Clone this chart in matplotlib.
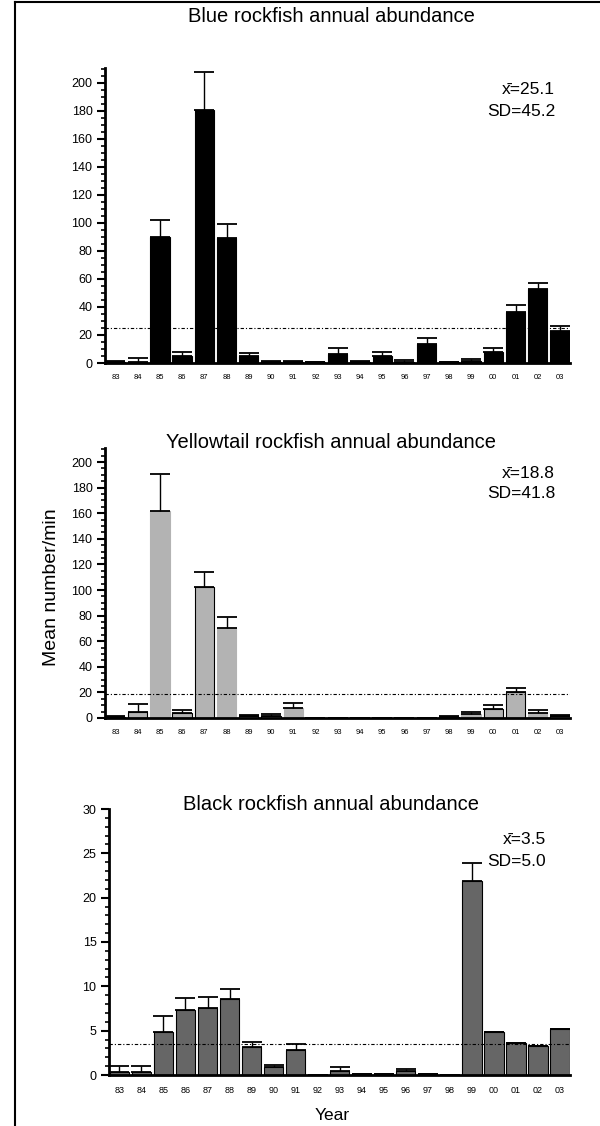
import numpy as np
import matplotlib.pyplot as plt
from matplotlib.lines import Line2D

plt.rcParams['font.family'] = ['Liberation Sans', 'DejaVu Sans']

years = ["83", "84", "85", "86", "87", "88", "89", "90", "91", "92", "93",
         "94", "95", "96", "97", "98", "99", "00", "01", "02", "03"]

# Blue rockfish: mean and upper error (mean number/min)
blue_mean = [1.0, 1.0, 90.0, 5.0, 180.5, 89.5, 5.0, 1.0, 0.8, 0.5, 6.5,
             1.0, 5.0, 1.0, 13.5, 0.5, 1.5, 8.0, 36.4, 52.9, 23.0]
blue_err = [0.6, 2.5, 12.0, 3.0, 27.0, 9.5, 2.0, 0.6, 0.3, 0.3, 4.0,
            0.4, 2.5, 1.0, 4.0, 0.3, 1.0, 2.5, 5.0, 4.5, 3.5]

# Yellowtail rockfish
yt_mean = [1.0, 4.7, 161.6, 3.9, 102.6, 70.1, 1.5, 1.5, 8.0, 0, 0,
           0, 0, 0, 0, 1.0, 3.4, 7.0, 20.0, 3.9, 1.5]
yt_err = [0.5, 6.2, 28.8, 2.1, 11.7, 8.6, 1.0, 1.5, 3.4, 0, 0,
          0, 0, 0, 0, 0.3, 1.5, 2.9, 3.6, 2.1, 0.5]

# Black rockfish
blk_mean = [0.3, 0.3, 4.8, 7.3, 7.6, 8.54, 3.12, 0.87, 2.79, 0, 0.45,
            0.15, 0.1, 0.45, 0.1, 0.03, 21.87, 4.9, 3.58, 3.24, 5.16]
blk_err = [0.75, 0.75, 1.9, 1.4, 1.25, 1.2, 0.64, 0.3, 0.75, 0, 0.45,
           0, 0, 0.23, 0, 0, 2.0, 0, 0, 0, 0]

titles = ["Blue rockfish annual abundance",
          "Yellowtail rockfish annual abundance",
          "Black rockfish annual abundance"]
means = [25.1, 18.8, 3.5]
sds = [45.2, 41.8, 5.0]

W, H = 600.0, 1126.0
fig = plt.figure(figsize=(6, 11.26), dpi=100)

# frame lines (left and top) round the figure
fig.add_artist(Line2D([14.5 / W, 14.5 / W], [0, 1 - 1.5 / H], color='black', lw=1.5))
fig.add_artist(Line2D([14.5 / W, 1], [1 - 1.5 / H, 1 - 1.5 / H], color='black', lw=1.5))

# panel boxes in pixels: left, right, bottom, top
boxes = [(105, 570, 363, 68), (105, 570, 718, 448), (109, 570, 1075, 809)]
ylims = [210.5, 211, 30]
majors = [20, 20, 5]
minors = [5, 5, 1]
colors = ['black', '#b3b3b3', '#666666']
# which yellowtail bars have a dark outline
yt_edged = [1, 1, 0, 1, 1, 0, 1, 1, 0, 0, 0, 0, 0, 0, 0, 1, 0, 1, 1, 0, 1]
title_y = [16, 443, 805]
ann_y = [(89, 111), (473, 494), (840, 862)]
ann_x = [555, 555, 546]
xt_size = [5.5, 5.5, 6.5]

data = [(blue_mean, blue_err), (yt_mean, yt_err), (blk_mean, blk_err)]
x = np.arange(len(years))

for i, (m, e) in enumerate(data):
    l, r, b, t = boxes[i]
    ax = fig.add_axes([l / W, 1 - b / H, (r - l) / W, (b - t) / H])
    if i == 1:
        ec = ['black' if f else colors[1] for f in yt_edged]
    else:
        ec = ['black'] * len(x)
    ax.bar(x, m, width=0.87, color=colors[i], edgecolor=ec, linewidth=0.8, zorder=2)
    # upper error bars only
    ax.errorbar(x, m, yerr=[np.zeros(len(x)), e], fmt='none', ecolor='black',
                elinewidth=1.0, capsize=7, capthick=1.3, zorder=3)
    ax.axhline(means[i], color='black', lw=0.8, ls=(0, (3, 1.8, 1, 1.8)), zorder=4)
    ax.set_xlim(-0.47, 20.45)
    ax.set_ylim(0, ylims[i])
    ax.set_xticks(x)
    ax.set_xticklabels(years, fontsize=xt_size[i])
    ax.tick_params(axis='x', length=0, pad=8)
    ax.set_yticks(np.arange(0, ylims[i] + 0.01, majors[i]))
    ax.set_yticks(np.arange(0, ylims[i] + 0.01, minors[i]), minor=True)
    ax.tick_params(axis='y', which='major', length=6, width=1.5, labelsize=9, pad=3)
    ax.tick_params(axis='y', which='minor', length=3, width=1.2)
    for s in ['top', 'right']:
        ax.spines[s].set_visible(False)
    ax.spines['left'].set_linewidth(2)
    ax.spines['bottom'].set_linewidth(2)
    fig.text(ann_x[i] / W, 1 - ann_y[i][0] / H, "x\u0304=%.1f" % means[i],
             ha='right', va='center', fontsize=12.5)
    fig.text(ann_x[i] / W, 1 - ann_y[i][1] / H, "SD=%.1f" % sds[i],
             ha='right', va='center', fontsize=12.5)
    fig.text(331 / W, 1 - title_y[i] / H, titles[i], ha='center', va='center', fontsize=14.5)

fig.text(52 / W, 1 - 587 / H, "Mean number/min", rotation=90, ha='center', va='center', fontsize=14)
fig.text(332 / W, 1 - 1116 / H, "Year", ha='center', va='center', fontsize=12.5)

fig.savefig("out.png", dpi=100)
